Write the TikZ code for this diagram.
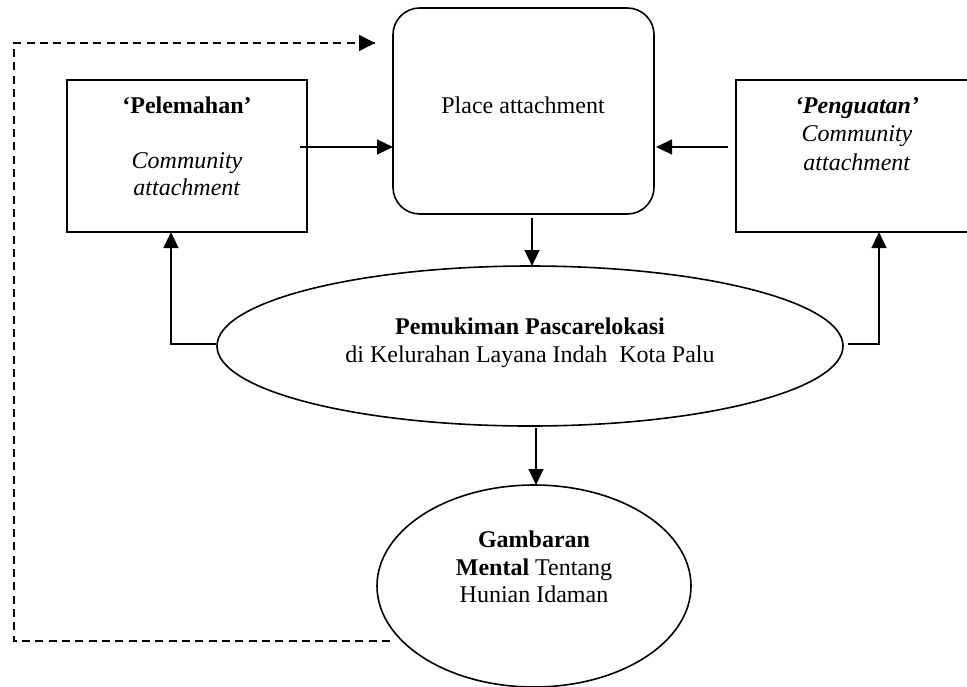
\documentclass[tikz,border=0pt]{standalone}
\usepackage{fontspec}
\setmainfont{Liberation Serif}
\usetikzlibrary{shapes.geometric,arrows.meta,calc}
\begin{document}
\begin{tikzpicture}[x=0.75pt,y=-0.75pt,
  shp/.style={draw,line width=1.2pt,inner sep=0pt,outer sep=0pt},
  txt/.style={font=\fontsize{18}{20}\selectfont,align=center,inner sep=0pt},
  arr/.style={line width=1.6pt,-{Triangle[length=12pt,width=11pt]}},
  dsh/.style={line width=1.2pt,dash pattern=on 6pt off 4pt}]
\useasboundingbox[fill=white] (0,0) rectangle (967,686);

% shapes
\node[shp,rectangle,minimum width=180pt,minimum height=114pt] (pel) at (187,156) {};
\node[shp,rectangle,rounded corners=20pt,minimum width=195.75pt,minimum height=154.5pt] (place) at (523.5,111) {};
\node[shp,rectangle,minimum width=183pt,minimum height=114pt] (pen) at (858,156) {};
\node[shp,ellipse,minimum width=469.5pt,minimum height=120pt] (big) at (530,346) {};
\node[shp,ellipse,minimum width=235.5pt,minimum height=151.5pt] (small) at (534,586) {};

% texts
\node[txt] (t1) at (187,105) {\textbf{‘Pelemahan’}};
\node[txt] (t2) at (187,174) {\textit{Community}\\\textit{attachment}};
\node[txt] (t3) at (523,105) {Place attachment};
\node[txt,font=\fontsize{18}{21.5}\selectfont] (t4) at (857,134) {\textbf{\textit{‘Penguatan’}}\\\textit{Community}\\\textit{attachment}};
\node[txt,font=\fontsize{18}{21}\selectfont] (t5) at (530,343) {\textbf{Pemukiman Pascarelokasi}\\di Kelurahan Layana Indah\ \ Kota Palu};
\node[txt,font=\fontsize{18}{20.5}\selectfont] (t6) at (534,567) {\textbf{Gambaran}\\\textbf{Mental} Tentang\\Hunian Idaman};

% connectors
\draw[arr] ($(pel.east)+(-7,-9)$) coordinate (a1) -- (a1 -| place.west);
\draw[arr] ($(pen.west)+(-8,-9)$) coordinate (a2) -- ($(a2 -| place.east)+(2,0)$);
\draw[arr] ($(place.south)+(8.5,4)$) coordinate (a3) -- (a3 |- big.north);
\draw[arr] ($(big.west)+(-1,-2)$) -| ($(pel.south)+(-16,0)$);
\draw[arr] ($(big.east)+(5,-2)$) -| ($(pen.south)+(21,0)$);
\draw[arr] ($(big.south)+(6,2)$) coordinate (a4) -- (a4 |- small.north);

% dashed feedback
\coordinate (d0) at (390,641);
\coordinate (d1) at (14,641);
\coordinate (d2) at (14,43);
\coordinate (d3) at ($(place.west |- d2)+(-18,0)$);
\draw[dsh] (d0) -- (d1) -- (d2) -- (d3);
\draw[line width=1.2pt,-{Triangle[length=12pt,width=12pt]}] ($(d3)+(-2,0)$) -- (d3);
\end{tikzpicture}
\end{document}
